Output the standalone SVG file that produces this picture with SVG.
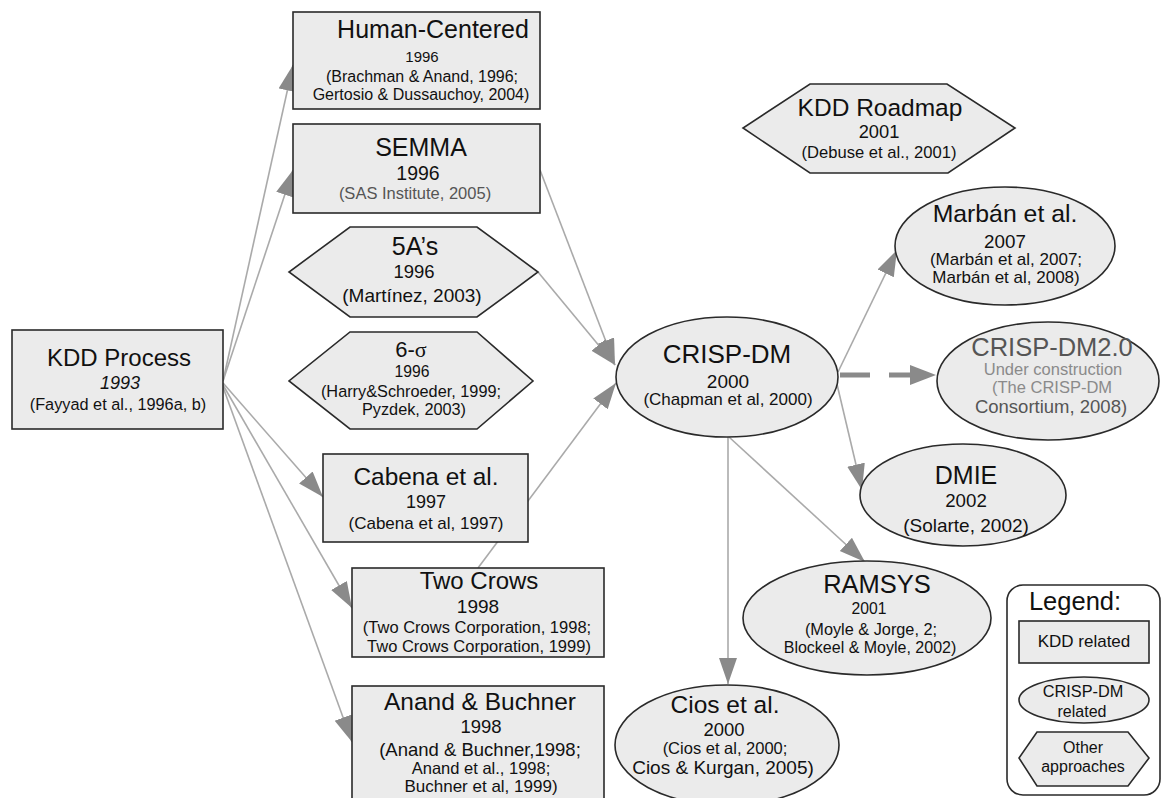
<svg xmlns="http://www.w3.org/2000/svg" width="1161" height="798" viewBox="0 0 1161 798">
  <style>
    text { font-family: "Liberation Sans", Arial, Helvetica, sans-serif; fill: #111; text-anchor: middle; }
    .node { fill: #ebebeb; stroke: #2a2a2a; stroke-width: 1.6; }
    .edge { fill: none; stroke: #aaaaaa; stroke-width: 1.6; }
    .dash { fill: none; stroke: #8a8a8a; stroke-width: 5; stroke-dasharray: 30 19; }
    .soft { fill: #555; }
    .faint { fill: #8a8a8a; }
  </style>
  <defs>
    <marker id="arrow" markerUnits="userSpaceOnUse" markerWidth="28" markerHeight="20" refX="26" refY="9" orient="auto">
      <path d="M0,0 L26,9 L0,18 z" fill="#8a8a8a"/>
    </marker>
    <marker id="arrowDash" markerUnits="userSpaceOnUse" markerWidth="30" markerHeight="22" refX="1" refY="10" orient="auto">
      <path d="M0,0 L26,10 L0,20 z" fill="#8a8a8a"/>
    </marker>
  </defs>

  <rect width="1161" height="798" fill="#ffffff"/>

  <!-- connectors (drawn first so nodes sit on top) -->
  <g id="connectors">
    <line class="edge" x1="223" y1="381" x2="293" y2="65" marker-end="url(#arrow)"/>
    <line class="edge" x1="223" y1="381" x2="293" y2="170" marker-end="url(#arrow)"/>
    <line class="edge" x1="223" y1="383" x2="323" y2="497" marker-end="url(#arrow)"/>
    <line class="edge" x1="223" y1="385" x2="352" y2="608" marker-end="url(#arrow)"/>
    <line class="edge" x1="223" y1="387" x2="352" y2="742" marker-end="url(#arrow)"/>
    <line class="edge" x1="540" y1="170" x2="615" y2="365" marker-end="url(#arrow)"/>
    <line class="edge" x1="538" y1="272" x2="615" y2="365" marker-end="url(#arrow)"/>
    <line class="edge" x1="478" y1="568" x2="616" y2="383" marker-end="url(#arrow)"/>
    <line class="edge" x1="838" y1="372" x2="897" y2="250" marker-end="url(#arrow)"/>
    <line class="dash" x1="840" y1="375" x2="911" y2="375" marker-end="url(#arrowDash)"/>
    <line class="edge" x1="836" y1="380" x2="862" y2="490" marker-end="url(#arrow)"/>
    <line class="edge" x1="729" y1="437" x2="865" y2="562" marker-end="url(#arrow)"/>
    <line class="edge" x1="728" y1="437" x2="728" y2="684" marker-end="url(#arrow)"/>
  </g>

  <g id="kdd-process">
    <rect class="node" x="12" y="330" width="211" height="99"/>
    <text x="119" y="366" font-size="24">KDD Process</text>
    <text x="120" y="389" font-size="18" font-style="italic">1993</text>
    <text x="118" y="410" font-size="16.3">(Fayyad et al., 1996a, b)</text>
  </g>

  <g id="human-centered">
    <rect class="node" x="293" y="12" width="247" height="97"/>
    <text x="433" y="38" font-size="25">Human-Centered</text>
    <text x="422" y="62" font-size="15">1996</text>
    <text x="422" y="82" font-size="16">(Brachman &amp; Anand, 1996;</text>
    <text x="421" y="100" font-size="16">Gertosio &amp; Dussauchoy, 2004)</text>
  </g>

  <g id="semma">
    <rect class="node" x="293" y="124" width="247" height="89"/>
    <text x="421" y="156" font-size="25">SEMMA</text>
    <text x="418" y="180" font-size="19.5">1996</text>
    <text x="415" y="199" font-size="16.5" class="soft">(SAS Institute, 2005)</text>
  </g>

  <g id="five-as">
    <polygon class="node" points="350,227 477,227 538,272 477,317 350,317 289,272"/>
    <text x="415" y="255" font-size="25">5A’s</text>
    <text x="414" y="278" font-size="18.5">1996</text>
    <text x="412" y="302" font-size="19">(Martínez, 2003)</text>
  </g>

  <g id="six-sigma">
    <polygon class="node" points="350,332 477,332 533,381 477,429 350,429 289,381"/>
    <text x="411" y="357" font-size="22">6-<tspan font-family="'Liberation Serif', 'Times New Roman', serif">σ</tspan></text>
    <text x="412" y="377" font-size="15.7">1996</text>
    <text x="411" y="397" font-size="16.3">(Harry&amp;Schroeder, 1999;</text>
    <text x="414" y="415" font-size="16.3">Pyzdek, 2003)</text>
  </g>

  <g id="cabena">
    <rect class="node" x="323" y="454" width="205" height="88"/>
    <text x="426" y="485" font-size="24.4">Cabena et al.</text>
    <text x="426" y="508" font-size="18">1997</text>
    <text x="426" y="529" font-size="17">(Cabena et al, 1997)</text>
  </g>

  <g id="two-crows">
    <rect class="node" x="352" y="568" width="252" height="89"/>
    <text x="479" y="589" font-size="24">Two Crows</text>
    <text x="478" y="613" font-size="19">1998</text>
    <text x="477" y="633" font-size="16.5">(Two Crows Corporation, 1998;</text>
    <text x="479" y="652" font-size="16.5">Two Crows Corporation, 1999)</text>
  </g>

  <g id="anand-buchner">
    <rect class="node" x="352" y="686" width="252" height="120"/>
    <text x="480" y="710" font-size="24.5">Anand &amp; Buchner</text>
    <text x="481" y="733" font-size="18.5">1998</text>
    <text x="480" y="756" font-size="18.5">(Anand &amp; Buchner,1998;</text>
    <text x="481" y="774" font-size="16.5">Anand et al., 1998;</text>
    <text x="481" y="792" font-size="17">Buchner et al, 1999)</text>
  </g>

  <g id="crisp-dm">
    <ellipse class="node" cx="727" cy="377" rx="111" ry="60"/>
    <text x="727" y="363" font-size="26">CRISP-DM</text>
    <text x="728" y="388" font-size="19">2000</text>
    <text x="728" y="405" font-size="17">(Chapman et al, 2000)</text>
  </g>

  <g id="kdd-roadmap">
    <polygon class="node" points="810,84 947,84 1015,128 948,173 810,173 743,128"/>
    <text x="880" y="116" font-size="24.5">KDD Roadmap</text>
    <text x="879" y="138" font-size="18.3">2001</text>
    <text x="879" y="158" font-size="16.6">(Debuse et al., 2001)</text>
  </g>

  <g id="marban">
    <ellipse class="node" cx="1005" cy="246" rx="110" ry="59"/>
    <text x="1005" y="222" font-size="24.8">Marbán et al.</text>
    <text x="1005" y="248" font-size="18.8">2007</text>
    <text x="1006" y="265" font-size="17">(Marbán et al, 2007;</text>
    <text x="1006" y="283" font-size="17">Marbán et al, 2008)</text>
  </g>

  <g id="crisp-dm-2">
    <ellipse class="node" cx="1048" cy="381" rx="111" ry="59"/>
    <text x="1052" y="356" font-size="25.5" class="soft">CRISP-DM2.0</text>
    <text x="1053" y="375" font-size="16.5" class="faint">Under construction</text>
    <text x="1052" y="393" font-size="16.5" class="faint">(The CRISP-DM</text>
    <text x="1051" y="413" font-size="18.5" class="soft">Consortium, 2008)</text>
  </g>

  <g id="dmie">
    <ellipse class="node" cx="963" cy="495" rx="103" ry="51"/>
    <text x="966" y="484" font-size="25">DMIE</text>
    <text x="966" y="507" font-size="18.7">2002</text>
    <text x="966" y="532" font-size="19">(Solarte, 2002)</text>
  </g>

  <g id="ramsys">
    <ellipse class="node" cx="867" cy="618" rx="124" ry="57"/>
    <text x="877" y="593" font-size="25.5">RAMSYS</text>
    <text x="869" y="614" font-size="15.7">2001</text>
    <text x="871" y="635" font-size="16.3">(Moyle &amp; Jorge, 2;</text>
    <text x="870" y="653" font-size="16">Blockeel &amp; Moyle, 2002)</text>
  </g>

  <g id="cios">
    <ellipse class="node" cx="727" cy="745" rx="112" ry="60"/>
    <text x="725" y="713" font-size="24.5">Cios et al.</text>
    <text x="724" y="736" font-size="18.5">2000</text>
    <text x="725" y="754" font-size="16.5">(Cios et al, 2000;</text>
    <text x="723" y="774" font-size="19">Cios &amp; Kurgan, 2005)</text>
  </g>

  <g id="legend">
    <rect x="1007" y="585" width="153" height="210" rx="16" ry="16" fill="#ffffff" stroke="#2a2a2a" stroke-width="1.6"/>
    <text x="1075" y="610" font-size="25.5">Legend:</text>
    <rect class="node" x="1019" y="621" width="130" height="42"/>
    <text x="1084" y="647" font-size="17">KDD related</text>
    <ellipse class="node" cx="1084" cy="700" rx="65" ry="23"/>
    <text x="1083" y="697" font-size="16.3">CRISP-DM</text>
    <text x="1082" y="717" font-size="16">related</text>
    <polygon class="node" points="1037,732 1128,732 1149,758 1128,786 1037,786 1019,758"/>
    <text x="1083" y="753" font-size="16">Other</text>
    <text x="1083" y="772" font-size="16">approaches</text>
  </g>
</svg>
